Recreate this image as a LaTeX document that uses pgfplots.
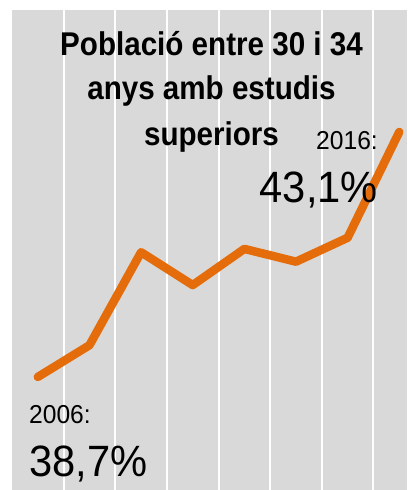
\documentclass[border=0pt]{standalone}
\usepackage{pgfplots}
\pgfplotsset{compat=1.18}
\usepackage{fontspec}
\setmainfont{Liberation Sans}
\newfontfamily\titlefont[FakeStretch=0.9]{Liberation Sans}
\newfontfamily\labelfont[FakeStretch=0.95]{Liberation Sans}
\definecolor{bggray}{HTML}{D9D9D9}
\definecolor{lineorange}{HTML}{E46C0A}
\begin{document}
\begin{tikzpicture}[x=1bp,y=1bp]
\useasboundingbox (0,0) rectangle (407,490);
\begin{axis}[
  at={(12bp,0bp)}, anchor=south west,
  scale only axis, width=395bp, height=480bp,
  xmin=-0.5, xmax=7.15, ymin=36.67, ymax=45.29,
  axis background/.style={fill=bggray},
  axis line style={draw=none},
  xtick={0.5,1.5,2.5,3.5,4.5,5.5,6.5},
  xticklabels={}, ytick=\empty,
  major tick length=0pt,
  xmajorgrids,
  major grid style={white, line width=2bp},
  clip=false,
]
\addplot[lineorange, line width=8.5bp, line cap=round, line join=round] coordinates {
  (0,38.7) (1,39.27) (2,40.94) (3,40.35) (4,41.0) (5,40.77) (6,41.2) (7,43.1)
};
\end{axis}
\node[anchor=base, font=\titlefont\bfseries\fontsize{33}{40}\selectfont, inner sep=0] at (211.5,434) {Població entre 30 i 34};
\node[anchor=base, font=\titlefont\bfseries\fontsize{33}{40}\selectfont, inner sep=0] at (211.5,390) {anys amb estudis};
\node[anchor=base, font=\titlefont\bfseries\fontsize{33}{40}\selectfont, inner sep=0] at (211.5,344) {superiors};
\node[anchor=base east, font=\labelfont\fontsize{26}{30}\selectfont, inner sep=0] at (378,340) {2016:};
\node[anchor=base east, font=\labelfont\fontsize{44}{50}\selectfont, inner sep=0] at (378,287) {43,1\%};
\node[anchor=base west, font=\labelfont\fontsize{26}{30}\selectfont, inner sep=0] at (29,66) {2006:};
\node[anchor=base west, font=\labelfont\fontsize{44}{50}\selectfont, inner sep=0] at (29,13) {38,7\%};
\end{tikzpicture}
\end{document}
